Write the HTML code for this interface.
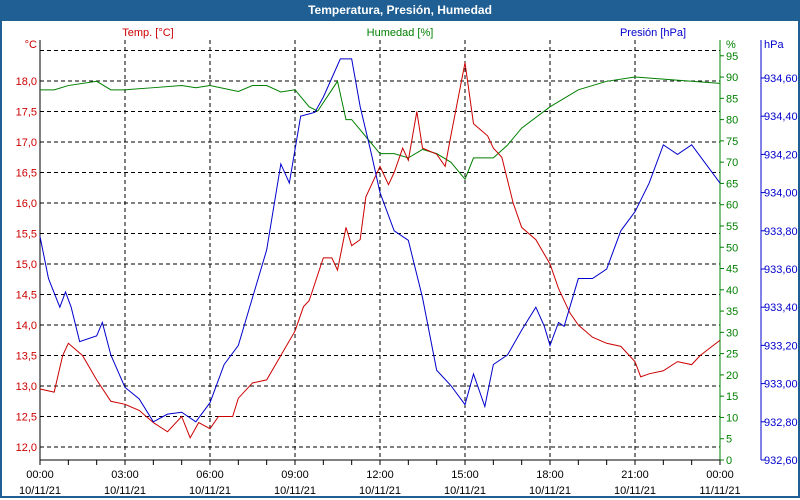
<!DOCTYPE html>
<html><head><meta charset="utf-8"><style>
body{margin:0;width:800px;height:500px;overflow:hidden;background:#fff;font-family:"Liberation Sans",sans-serif}
#frame{position:absolute;left:0;top:0;width:796px;height:496px;border:2px solid #1f5f94;border-top:none}
#title{position:absolute;left:0;top:0;width:800px;height:21px;background:#1f5f94;color:#fff;font-weight:bold;font-size:12px;text-align:center;line-height:21px}
</style></head><body>
<div id="frame"></div>
<div id="title">Temperatura, Presión, Humedad</div>
<svg id="c" width="800" height="500" style="position:absolute;left:0;top:0"></svg>
<script>
const hours=[0,0.5,0.8,1,1.5,2,2.5,3,3.5,4,4.5,5,5.3,5.6,6,6.3,6.8,7,7.5,8,8.5,9,9.3,9.5,10,10.3,10.5,10.8,11,11.3,11.5,12,12.3,12.5,12.8,13,13.3,13.5,14,14.3,14.5,15,15.3,15.8,16,16.3,16.7,17,17.5,18,18.3,18.7,19,19.5,20,20.5,21,21.2,21.5,22,22.5,23,23.3,24];
const temp=[12.95,12.9,13.5,13.7,13.5,13.1,12.75,12.7,12.6,12.4,12.25,12.5,12.15,12.4,12.3,12.5,12.5,12.8,13.05,13.1,13.5,13.9,14.3,14.4,15.1,15.1,14.9,15.6,15.3,15.4,16.1,16.6,16.3,16.5,16.9,16.7,17.5,16.9,16.8,16.6,17.1,18.3,17.3,17.1,16.9,16.75,16.0,15.6,15.4,15.0,14.6,14.2,14.0,13.8,13.7,13.65,13.4,13.15,13.2,13.25,13.4,13.35,13.5,13.75];
const humHours=[0,0.5,1,2,2.5,3,4,5,5.5,6,7,7.5,8,8.5,9,9.5,9.8,10.2,10.5,10.8,11,11.5,12,12.5,13,13.5,14,14.5,15,15.3,16,16.5,17,18,19,20,21,22,23,24];
const hum=[87,87,88,89,87,87,87.5,88,87.5,88,86.6,88,88,86.5,87,83,82,86,89,80,80,76,72,72,71,73,72,70,66,71,71,74,78,83,87,89,90,89.5,89,88.5];
const presHours=[0,0.3,0.7,0.9,1.1,1.4,2,2.2,2.5,3,3.5,4,4.5,5,5.5,6,6.5,7,7.5,8,8.5,8.8,9.2,9.7,10,10.3,10.6,11,11.3,11.7,12,12.5,13,13.5,14,14.5,15,15.3,15.7,16,16.5,17,17.5,17.8,18,18.3,18.5,19,19.5,20,20.5,21,21.5,22,22.5,23,23.5,24];
const pres=[933.77,933.55,933.4,933.48,933.4,933.22,933.25,933.32,933.15,932.98,932.92,932.8,932.84,932.85,932.8,932.9,933.1,933.2,933.45,933.7,934.15,934.05,934.4,934.42,934.5,934.6,934.7,934.7,934.45,934.2,934.0,933.8,933.75,933.45,933.07,932.99,932.89,933.05,932.88,933.1,933.15,933.28,933.4,933.3,933.2,933.32,933.3,933.55,933.55,933.6,933.8,933.9,934.05,934.25,934.2,934.25,934.15,934.05];
const tempTicks=[12,12.5,13,13.5,14,14.5,15,15.5,16,16.5,17,17.5,18];
const humTicks=[0,5,10,15,20,25,30,35,40,45,50,55,60,65,70,75,80,85,90,95];
const presTicks=[932.6,932.8,933.0,933.2,933.4,933.6,933.8,934.0,934.2,934.4,934.6];
const xTicks=[0,3,6,9,12,15,18,21,24];
const xDates=['10/11/21','10/11/21','10/11/21','10/11/21','10/11/21','10/11/21','10/11/21','10/11/21','11/11/21'];
const X=h=>40+h*680/24, YT=t=>447-(t-12)*61, YH=v=>460-v*4.255, YP=p=>460-(p-932.6)*191;
const s=document.getElementById('c'),NS='http://www.w3.org/2000/svg';
function el(t,a,txt){const e=document.createElementNS(NS,t);for(const k in a)e.setAttribute(k,a[k]);if(txt!=null)e.textContent=txt;s.appendChild(e);return e;}
const F='Liberation Sans,sans-serif';
[18.5,...tempTicks].forEach(t=>{const g=el('line',{x1:40,x2:720,y1:YT(t),y2:YT(t),stroke:'#000','stroke-dasharray':'4,3'});
});
xTicks.slice(1,-1).forEach(h=>{const g=el('line',{x1:X(h),x2:X(h),y1:40,y2:460,stroke:'#000','stroke-dasharray':'4,3'});
});
let a=el('line',{x1:40,x2:40,y1:40,y2:460,stroke:'#000'});
a=el('line',{x1:40,x2:720,y1:460,y2:460,stroke:'#000'});
a=el('line',{x1:720,x2:720,y1:40,y2:460,stroke:'#008000'});
a=el('line',{x1:761,x2:761,y1:40,y2:460,stroke:'#0000cc'});
for(let h=0;h<=24;h++){const t=el('line',{x1:X(h),x2:X(h),y1:460,y2:465,stroke:'#000'});}
xTicks.forEach((h,i)=>{const l=el('text',{x:X(h),y:478,'text-anchor':'middle','font-size':11,'font-family':F},String(h%24).padStart(2,'0')+':00');

const d=el('text',{x:X(h),y:494,'text-anchor':'middle','font-size':11,'font-family':F},xDates[i]);
});
tempTicks.forEach(t=>{const l=el('text',{x:37,y:YT(t)+4,'text-anchor':'end','font-size':11,fill:'#cc0000','font-family':F},t.toFixed(1).replace('.',','));
});
humTicks.forEach(v=>{const tk=el('line',{x1:720,x2:724,y1:YH(v),y2:YH(v),stroke:'#008000'});
const l=el('text',{x:726,y:YH(v)+4,'font-size':11,fill:'#008000','font-family':F},v);
});
presTicks.forEach(p=>{const tk=el('line',{x1:761,x2:765,y1:YP(p),y2:YP(p),stroke:'#0000cc'});
const l=el('text',{x:764,y:YP(p)+4,'font-size':11,fill:'#0000cc','font-family':F},p.toFixed(2).replace('.',','));
});
[['°C',37,48,'end','#cc0000','temp-unit'],['Temp. [°C]',148,36,'middle','#cc0000','temp-series-title'],['Humedad [%]',400,36,'middle','#008000','humidity-series-title'],['Presión [hPa]',653,36,'middle','#0000cc','pressure-series-title'],['%',726,48,'start','#008000','humidity-unit'],['hPa',764,48,'start','#0000cc','pressure-unit']].forEach(q=>{
const l=el('text',{x:q[1],y:q[2],'text-anchor':q[3],'font-size':11,fill:q[4],'font-family':F},q[0]);
});
function line(hs,vs,f,col,name){const p=el('polyline',{points:hs.map((h,i)=>X(h)+','+f(vs[i])).join(' '),fill:'none',stroke:col,'stroke-width':1});
}
line(humHours,hum,YH,'#008000','humidity-line');
line(hours,temp,YT,'#cc0000','temperature-line');
line(presHours,pres,YP,'#0000cc','pressure-line');
</script>
</body></html>
